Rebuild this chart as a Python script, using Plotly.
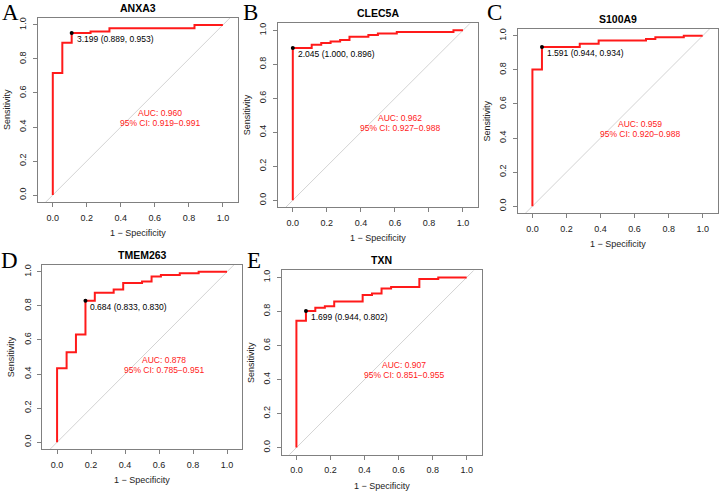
import plotly.graph_objects as go

W, H = 719, 493

genes = ["ANXA3", "CLEC5A", "S100A9", "TMEM263", "TXN"]
letters = ["A", "B", "C", "D", "E"]

# ROC step corners: 1 - specificity where the curve steps up, sensitivity after the step
anxa3_fpr = [0, 0, 0.056, 0.111, 0.222, 0.333, 0.833, 1.0]
anxa3_tpr = [0, 0.717, 0.896, 0.953, 0.962, 0.981, 1.0, 1.0]

clec5a_fpr = [0, 0, 0.111, 0.167, 0.222, 0.278, 0.333, 0.444, 0.5, 0.611, 0.944, 1.0]
clec5a_tpr = [0, 0.896, 0.915, 0.925, 0.934, 0.943, 0.962, 0.972, 0.981, 0.991, 1.0, 1.0]

s100a9_fpr = [0, 0, 0.056, 0.278, 0.389, 0.667, 0.722, 0.889, 1.0]
s100a9_tpr = [0, 0.802, 0.934, 0.953, 0.972, 0.981, 0.991, 1.0, 1.0]

tmem263_fpr = [0, 0, 0.056, 0.111, 0.167, 0.222, 0.333, 0.389, 0.5, 0.556, 0.611, 0.722, 0.833, 1.0]
tmem263_tpr = [0, 0.434, 0.528, 0.632, 0.830, 0.877, 0.896, 0.934, 0.943, 0.972, 0.981, 0.991, 1.0, 1.0]

txn_fpr = [0, 0, 0.056, 0.111, 0.167, 0.222, 0.389, 0.444, 0.5, 0.556, 0.722, 0.833, 1.0]
txn_tpr = [0, 0.745, 0.802, 0.821, 0.830, 0.858, 0.896, 0.906, 0.934, 0.943, 0.991, 1.0, 1.0]

curves_fpr = [anxa3_fpr, clec5a_fpr, s100a9_fpr, tmem263_fpr, txn_fpr]
curves_tpr = [anxa3_tpr, clec5a_tpr, s100a9_tpr, tmem263_tpr, txn_tpr]

# best threshold: threshold, specificity, sensitivity
thresholds = [3.199, 2.045, 1.591, 0.684, 1.699]
best_spec = [0.889, 1.000, 0.944, 0.833, 0.944]
best_sens = [0.953, 0.896, 0.934, 0.830, 0.802]

auc = [0.960, 0.962, 0.959, 0.878, 0.907]
ci_low = [0.919, 0.927, 0.920, 0.785, 0.851]
ci_high = [0.991, 0.988, 0.988, 0.951, 0.955]

# plot boxes in pixels: left, right, top, bottom
boxes = [
    (38.0, 237.7, 18.0, 202.0),
    (278.0, 477.8, 23.4, 207.2),
    (517.6, 717.5, 28.8, 213.2),
    (42.3, 241.8, 264.8, 449.2),
    (281.6, 481.5, 270.4, 454.6),
]
letter_pos = [(10.5, 12.5), (250, 12.5), (494.5, 12.5), (9, 260), (254, 260)]

SANS = "Arial, Liberation Sans, sans-serif"
SERIF = "Times New Roman, Liberation Serif, serif"
BOX = "#808080"
TXT = "#222222"

fig = go.Figure()
annotations = []


def px(x):
    return x / W


def py(y):
    return 1 - y / H


for i, gene in enumerate(genes):
    n = "" if i == 0 else str(i + 1)
    xa, ya = "x" + n, "y" + n
    left, right, top, bottom = boxes[i]

    # chance diagonal
    fig.add_trace(go.Scatter(
        x=[-0.2, 1.2], y=[-0.2, 1.2], mode="lines",
        line=dict(color="#c8c8c8", width=0.8),
        xaxis=xa, yaxis=ya, showlegend=False, hoverinfo="skip"
    ))
    # ROC curve
    fig.add_trace(go.Scatter(
        x=curves_fpr[i], y=curves_tpr[i], mode="lines",
        line=dict(color="#ff1a1a", width=2, shape="hv"),
        xaxis=xa, yaxis=ya, showlegend=False
    ))
    # best threshold point
    bx = round(1 - best_spec[i], 3)
    fig.add_trace(go.Scatter(
        x=[bx], y=[best_sens[i]], mode="markers",
        marker=dict(color="black", size=4),
        xaxis=xa, yaxis=ya, showlegend=False
    ))
    annotations.append(dict(
        x=bx, y=best_sens[i], xref=xa, yref=ya,
        text=f"{thresholds[i]:.3f} ({best_spec[i]:.3f}, {best_sens[i]:.3f})",
        showarrow=False, xanchor="left", yanchor="middle", xshift=3, yshift=-6,
        font=dict(family=SANS, size=8.5, color="black")
    ))
    annotations.append(dict(
        x=0.632, y=0.485, xref=xa, yref=ya, text=f"AUC: {auc[i]:.3f}",
        showarrow=False, xanchor="center", yanchor="middle",
        font=dict(family=SANS, size=8.5, color="#ff1a1a")
    ))
    annotations.append(dict(
        x=0.632, y=0.425, xref=xa, yref=ya,
        text=f"95% CI: {ci_low[i]:.3f}\u2212{ci_high[i]:.3f}",
        showarrow=False, xanchor="center", yanchor="middle",
        font=dict(family=SANS, size=8.5, color="#ff1a1a")
    ))

    # gene title, axis titles, panel letter
    cx = (left + right) / 2
    cy = (top + bottom) / 2
    annotations.append(dict(
        x=px(cx), y=py(top - 10), xref="paper", yref="paper", text=f"<b>{gene}</b>",
        showarrow=False, xanchor="center", yanchor="middle",
        font=dict(family=SANS, size=10.5, color="black")
    ))
    annotations.append(dict(
        x=px(cx), y=py(bottom + 31), xref="paper", yref="paper", text="1 \u2212 Specificity",
        showarrow=False, xanchor="center", yanchor="middle",
        font=dict(family=SANS, size=9, color=TXT)
    ))
    annotations.append(dict(
        x=px(left - 31), y=py(cy), xref="paper", yref="paper", text="Sensitivity",
        showarrow=False, xanchor="center", yanchor="middle", textangle=-90,
        font=dict(family=SANS, size=9, color=TXT)
    ))
    lx, ly = letter_pos[i]
    annotations.append(dict(
        x=px(lx), y=py(ly), xref="paper", yref="paper", text=letters[i],
        showarrow=False, xanchor="center", yanchor="middle",
        font=dict(family=SERIF, size=23, color="black")
    ))

    common = dict(
        showline=True, mirror=True, linecolor=BOX, linewidth=1,
        ticks="outside", ticklen=4, tickcolor=BOX, tickwidth=1,
        showgrid=False, zeroline=False,
        tickmode="array", tickvals=[0, 0.2, 0.4, 0.6, 0.8, 1.0],
        ticktext=["0.0", "0.2", "0.4", "0.6", "0.8", "1.0"],
        tickfont=dict(family=SANS, size=9, color=TXT),
    )
    fig.layout["xaxis" + n] = dict(
        domain=[px(left), px(right)], anchor=ya,
        range=[-0.087, 1.087], ticklabelstandoff=3, **common
    )
    fig.layout["yaxis" + n] = dict(
        domain=[py(bottom), py(top)], anchor=xa,
        range=[-0.041, 1.041], tickangle=-90, ticklabelstandoff=3, **common
    )

fig.update_layout(
    width=W, height=H,
    margin=dict(l=0, r=0, t=0, b=0),
    plot_bgcolor="white", paper_bgcolor="white",
    annotations=annotations,
    showlegend=False,
)

fig.write_html(
    "out.html",
    config={"displayModeBar": False},
    post_script="document.body.style.margin='0px';",
)
